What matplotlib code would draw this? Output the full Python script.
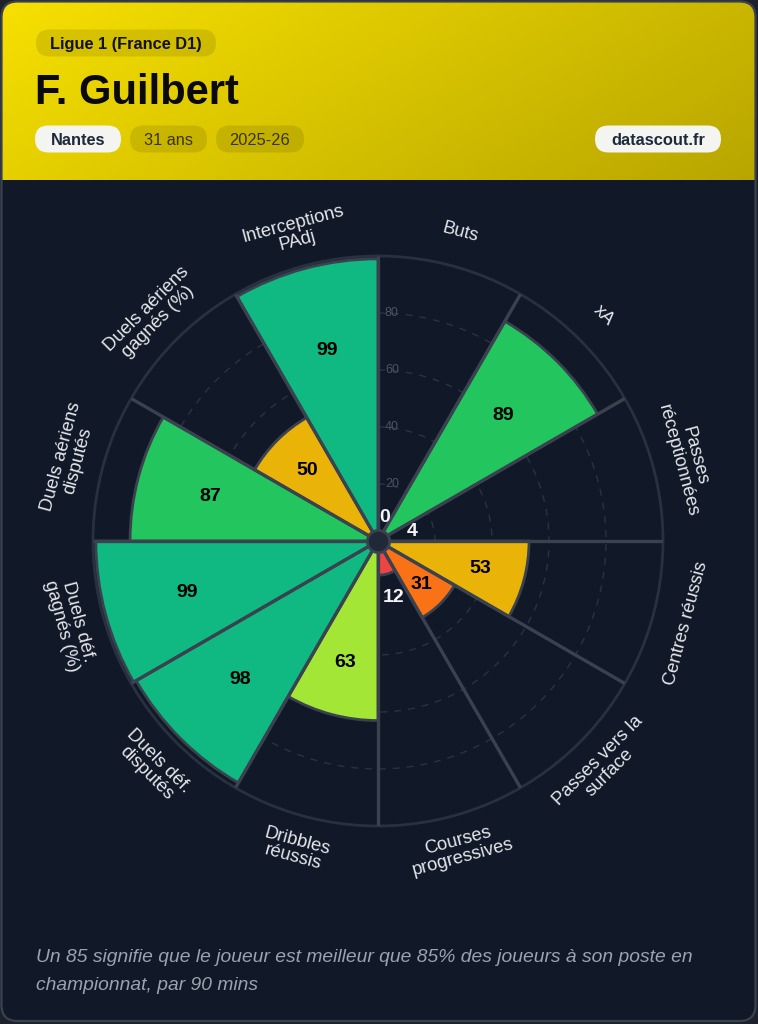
import numpy as np
import matplotlib
matplotlib.use('Agg')
import matplotlib.pyplot as plt
from matplotlib.patches import FancyBboxPatch

plt.rcParams['font.family'] = ['Liberation Sans', 'DejaVu Sans']

# ---------------- data ----------------
league = "Ligue 1 (France D1)"
player = "F. Guilbert"
team = "Nantes"
age = "31 ans"
season = "2025-26"
source = "datascout.fr"
categories = ["Buts", "xA", "Passes\nréceptionnées", "Centres réussis",
              "Passes vers la\nsurface", "Courses\nprogressives", "Dribbles\nréussis",
              "Duels déf.\ndisputés", "Duels déf.\ngagnés (%)", "Duels aériens\ndisputés",
              "Duels aériens\ngagnés (%)", "Interceptions\nPAdj"]
percentiles = [0, 89, 4, 53, 31, 12, 63, 98, 99, 87, 50, 99]
rticks = [20, 40, 60, 80]
footnote = ["Un 85 signifie que le joueur est meilleur que 85% des joueurs à son poste en",
            "championnat, par 90 mins"]


def pct_color(v):
    if v >= 90:
        return '#10b981'
    if v >= 70:
        return '#22c55e'
    if v >= 60:
        return '#a3e635'
    if v >= 40:
        return '#eab308'
    if v >= 20:
        return '#f97316'
    return '#ef4444'


W, H = 758, 1024
fig = plt.figure(figsize=(W / 100, H / 100), dpi=100)
fig.patch.set_facecolor('#1c212c')
bg = fig.add_axes([0, 0, 1, 1])
bg.axis('off')

card = FancyBboxPatch((1.5, 1.5), W - 4, H - 4.5, boxstyle='round,pad=0,rounding_size=16',
                      fc='#111827', ec='none', zorder=0)
bg.add_patch(card)

# header gradient
nx, ny = 380, 90
xx, yy = np.meshgrid(np.linspace(0, 1, nx), np.linspace(0, 1, ny))
t = np.clip(0.72 * xx + 0.28 * yy, 0, 1)
c0 = np.array([0xf7, 0xe0, 0x00]) / 255
c1 = np.array([0xb8, 0xa6, 0x00]) / 255
img = c0[None, None, :] * (1 - t[..., None]) + c1[None, None, :] * t[..., None]
im = bg.imshow(img, extent=(1.5, W - 2.5, 180, 1.5), aspect='auto', zorder=1,
               interpolation='bilinear')
im.set_clip_path(card)

card_edge = FancyBboxPatch((1.5, 1.5), W - 4, H - 4.5, boxstyle='round,pad=0,rounding_size=16',
                           fc='none', ec='#3a4250', lw=1.6, zorder=10)
bg.add_patch(card_edge)
bg.set_xlim(0, W)
bg.set_ylim(H, 0)


def pill(x0, x1, yc, text, fc, tc, weight, alpha=1.0):
    h = 27
    p = FancyBboxPatch((x0, yc - h / 2), x1 - x0, h,
                       boxstyle='round,pad=0,rounding_size=13.5',
                       fc=fc, ec='none', alpha=alpha, zorder=3)
    bg.add_patch(p)
    bg.text((x0 + x1) / 2, yc + 5.8, text, ha='center', va='baseline', fontsize=11.8,
            color=tc, fontweight=weight, zorder=4)


pill(36, 216, 43, league, 'black', '#111111', 'bold', alpha=0.1)
bg.text(35, 104, player, fontsize=30, fontweight='bold', color='#0a0a0a', va='baseline', zorder=4)
pill(35, 121, 139, team, '#f4f5f0', '#1e293b', 'bold')
pill(130, 207, 139, age, 'black', '#3a3510', 'normal', alpha=0.1)
pill(216, 304, 139, season, 'black', '#3a3510', 'normal', alpha=0.1)
pill(595, 721, 139, source, '#f4f5f0', '#1e293b', 'bold')

for i, line in enumerate(footnote):
    bg.text(36, 958 + 27 * i, line, fontsize=13.9, style='italic', color='#9ca3af',
            va='center', ha='left', zorder=4)

# ---------------- polar chart ----------------
cx, cy, R = 378, 541, 285
ax = fig.add_axes([(cx - R) / W, (H - cy - R) / H, 2 * R / W, 2 * R / H], projection='polar')
ax.set_theta_zero_location('N')
ax.set_theta_direction(-1)
ax.set_ylim(0, 100)
ax.set_facecolor('none')
ax.grid(False)
ax.set_xticks([])
ax.set_yticks([])
ax.spines['polar'].set_color('#283140')
ax.spines['polar'].set_linewidth(2)

n = len(categories)
width = 2 * np.pi / n
theta = np.arange(n) * width + width / 2

tt = np.linspace(0, 2 * np.pi, 500)
for r in rticks:
    ax.plot(tt, np.full_like(tt, r), color='#2a3343', lw=1, ls=(0, (5, 5)), zorder=1)
    ax.annotate(str(r), xy=(0, r), xytext=(5, 0), textcoords='offset points',
                ha='left', va='center', fontsize=9, color='#4b5563', zorder=2)

ax.bar(theta, percentiles, width=width, color=[pct_color(v) for v in percentiles],
       edgecolor='#3a4250', linewidth=2, zorder=3)

for k in range(n):
    ax.plot([k * width, k * width], [0, 100], color='#3a4250', lw=2.4, zorder=4,
            solid_capstyle='butt')

ax.plot([0], [0], 'o', ms=16, mfc='#1f2937', mec='#3a4250', mew=2, zorder=6, clip_on=False)

for th, v in zip(theta, percentiles):
    if v < 15:
        ax.text(th, v + 8.5, str(v), ha='center', va='center', fontsize=14,
                fontweight='bold', color='#f3f4f6', zorder=7)
    else:
        ax.text(th, 0.7 * v, str(v), ha='center', va='center', fontsize=14,
                fontweight='bold', color='#000000', zorder=7)

for th, lab in zip(theta, categories):
    deg = np.degrees(th)
    rot = -deg
    if 90 < deg < 270:
        rot += 180
    ax.text(th, 112, lab, rotation=rot, rotation_mode='anchor', ha='center', va='center',
            fontsize=13.2, color='#e5e7eb', linespacing=1.02, clip_on=False, zorder=7)

fig.savefig('out.png', dpi=100, facecolor=fig.get_facecolor())
